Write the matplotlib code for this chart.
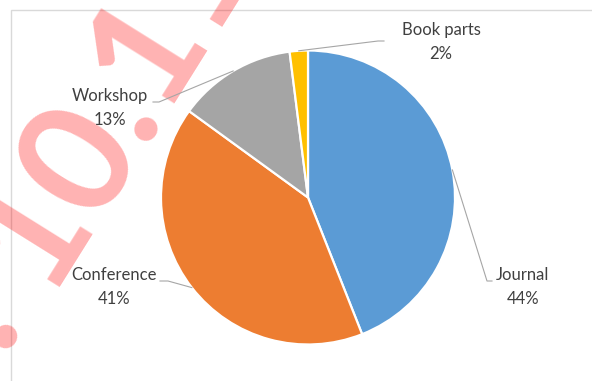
import numpy as np
import matplotlib
matplotlib.use("Agg")
import matplotlib.pyplot as plt
from matplotlib.patches import Rectangle

# publication types (share in %), clockwise from 12 o'clock
categories = ["Journal", "Conference", "Workshop", "Book parts"]
shares = [44, 41, 13, 2]
colors = ["#5B9BD5", "#ED7D31", "#A5A5A5", "#FFC000"]

W, H = 592, 381
fig = plt.figure(figsize=(W / 100, H / 100), dpi=100)
ax = fig.add_axes([0, 0, 1, 1])

cx, cy, r = 308, H - 197.5, 147
wedges, _ = ax.pie(shares, colors=colors, startangle=90, counterclock=False,
                   center=(cx, cy), radius=r,
                   wedgeprops=dict(edgecolor="white", linewidth=1.6))
ax.set_xlim(0, W)
ax.set_ylim(0, H)
ax.set_aspect("equal")
ax.axis("off")

# chart area border
ax.add_patch(Rectangle((11, -20), 800, H - 10 + 20, fill=False,
                       edgecolor="#d9d9d9", linewidth=1.0, zorder=0))

# label boxes: text centre and the point where the leader meets the text
label_pos = {
    "Journal":    ((523, 287), [(492, 281), (487, 281)]),
    "Conference": ((114, 287), [(160, 281), (168, 281)]),
    "Workshop":   ((110, 108), [(153, 102), (159, 102)]),
    "Book parts": ((441, 42),  [(384, 41), (378, 41)]),
}

for w, name, val in zip(wedges, categories, shares):
    mid = np.deg2rad((w.theta1 + w.theta2) / 2)
    ex, ey = cx + r * np.cos(mid), cy + r * np.sin(mid)
    (tx, ty), pts = label_pos[name]
    xs = [p[0] for p in pts] + [ex]
    ys = [H - p[1] for p in pts] + [ey]
    ax.plot(xs, ys, color="#a6a6a6", linewidth=0.8, zorder=3)
    ax.text(tx, H - ty, f"{name}\n{val}%", ha="center", va="center",
            fontsize=12, family="Lato", color="#404040",
            linespacing=1.55, zorder=4)

# watermark across the upper left
wm = dict(color="#ff0000", alpha=0.3, fontsize=112, family="Lato",
          weight="bold", rotation=58, rotation_mode="anchor",
          va="baseline", zorder=1)
ax.text(46, H - 293, "10.1109", ha="left", **wm)
ax.text(46, H - 293, "DOI: ", ha="right", **wm)

fig.savefig("out.png", dpi=100)
